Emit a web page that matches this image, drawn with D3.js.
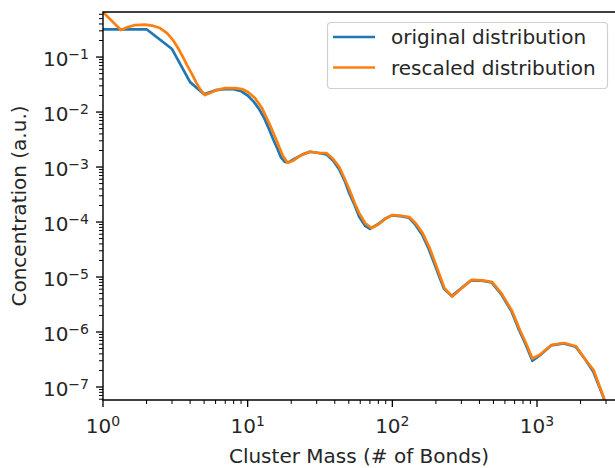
<!DOCTYPE html>
<html><head><meta charset="utf-8">
<script src="https://cdn.jsdelivr.net/npm/d3@7"></script>
<style>body{margin:0;background:#fff}svg{display:block;font-family:"DejaVu Sans",sans-serif}</style>
</head><body>
<svg id="c" width="615" height="468"></svg>
<script>
// Original distribution: [cluster mass, concentration]
const originalX = [1,2,3,4,5,6,7,8,9,10,11,12,13,14,15,16,17,18,19,21,24,27,31,35,39,43,47,50,55,59,65,70,79,89,99,114,130,143,160,178,193,210,227,257,298,350,415,485,565,665,750,825,930,1040,1250,1530,1850,2150,2450,2880,3100];
const originalY = [0.32,0.32,0.14,0.035,0.021,0.025,0.026,0.026,0.024,0.020,0.0155,0.0113,0.0078,0.005,0.0032,0.0022,0.0015,0.00125,0.0012,0.0014,0.0017,0.0019,0.0018,0.0017,0.0013,0.0009,0.00055,0.00035,0.0002,0.000125,8.5e-5,7.5e-5,9e-5,1.15e-4,1.32e-4,1.28e-4,1.2e-4,9.2e-5,6e-5,3.3e-5,1.9e-5,1.05e-5,6.2e-6,4.5e-6,6.2e-6,8.7e-6,8.6e-6,8.0e-6,4.9e-6,2.4e-6,1.1e-6,6.4e-7,3.0e-7,3.7e-7,5.7e-7,6.2e-7,5.4e-7,3.2e-7,1.9e-7,6.5e-8,3e-8];
// Rescaled distribution
const rescaledX = [1,1.331,1.489,1.664,1.951,2.182,2.477,2.77,3.047,3.299,3.573,3.807,4.124,4.394,4.683,5.071,5.49,6.14,6.97,8.17,9.14,10.05,11.23,12.56,14.27,15.8,17.5,18.9,20.5,23,26.8,31,35,39,43,47,50.6,55,59,65,71.6,80,90,100,115,131,145,162,180,195,212,229,260,300,354,420,490,570,673,760,834,930,1050,1260,1540,1860,2170,2470,2900,3100];
const rescaledY = [0.658,0.31,0.351,0.382,0.39,0.374,0.337,0.273,0.204,0.146,0.1,0.0716,0.0491,0.0351,0.0262,0.0204,0.0222,0.0251,0.0273,0.0273,0.0262,0.0231,0.018,0.0118,0.0058,0.0031,0.0016,0.0012,0.0013,0.0016,0.0019,0.0018,0.0018,0.0014,0.001,0.0006,0.00038,0.00022,0.000145,9.5e-5,7.8e-5,9.0e-5,1.15e-4,1.34e-4,1.3e-4,1.23e-4,9.5e-5,6.3e-5,3.5e-5,2.0e-5,1.1e-5,6.3e-6,4.4e-6,6.2e-6,8.9e-6,8.7e-6,8.1e-6,5e-6,2.4e-6,1.1e-6,6.5e-7,3.3e-7,3.9e-7,5.8e-7,6.3e-7,5.5e-7,3.1e-7,2.0e-7,6.3e-8,3e-8];
const seriesNames = ["original distribution","rescaled distribution"];
const seriesColors = ["#1f77b4","#ff7f0e"];
const xTickExps = [0,1,2,3];
const yTickExps = [-1,-2,-3,-4,-5,-6,-7];

const L=103, T=12, R=615, B=400;
const FS=20, SFS=14;
const svg=d3.select("#c");
const x=d3.scaleLog().domain([1,3460]).range([L,R]);
const y=d3.scaleLog().domain([5.8e-8,0.66]).range([B,T]);

svg.append("clipPath").attr("id","clip").append("rect").attr("x",L).attr("y",T).attr("width",R-L).attr("height",B-T);

const line=d3.line().x(d=>x(d[0])).y(d=>y(d[1]));
const series=[d3.zip(originalX,originalY), d3.zip(rescaledX,rescaledY)];
series.forEach((s,i)=>{
  svg.append("path").datum(s).attr("d",line).attr("fill","none")
    .attr("stroke",seriesColors[i]).attr("stroke-width",2.7)
    .attr("stroke-linejoin","round").attr("stroke-linecap","square")
    .attr("clip-path","url(#clip)");
});

// minor ticks
const xMinor=[], yMinor=[];
for(let e=0;e<4;e++) for(let m=2;m<=9;m++){const v=m*Math.pow(10,e); if(v<=3460) xMinor.push(v);}
for(let e=-8;e<0;e++) for(let m=2;m<=9;m++){const v=m*Math.pow(10,e); if(v>=5.8e-8&&v<=0.66) yMinor.push(v);}

const g=svg.append("g").attr("stroke","#000").attr("stroke-width",1.3);
xMinor.forEach(v=>g.append("line").attr("x1",x(v)).attr("x2",x(v)).attr("y1",B).attr("y2",B+4).attr("stroke-width",1));
xTickExps.forEach(e=>{const v=Math.pow(10,e);g.append("line").attr("x1",x(v)).attr("x2",x(v)).attr("y1",B).attr("y2",B+7);});
yMinor.forEach(v=>g.append("line").attr("y1",y(v)).attr("y2",y(v)).attr("x1",L).attr("x2",L-4).attr("stroke-width",1));
yTickExps.forEach(e=>{const v=Math.pow(10,e);g.append("line").attr("y1",y(v)).attr("y2",y(v)).attr("x1",L).attr("x2",L-7);});

// spines
svg.append("path").attr("d",`M${L},${B}V${T}H${R+5}M${L},${B}H${R+5}`).attr("fill","none").attr("stroke","#000").attr("stroke-width",1.4).attr("stroke-linecap","square");

function sup(t,e){
  t.append("tspan").text("10");
  t.append("tspan").attr("dy",-7).attr("font-size",SFS).text(e<0?"\u2212"+(-e):String(e));
}
xTickExps.forEach(e=>{
  const t=svg.append("text").attr("x",x(Math.pow(10,e))).attr("y",433).attr("text-anchor","middle").attr("font-size",FS).attr("fill","#262626");
  sup(t,e);
});
yTickExps.forEach(e=>{
  const t=svg.append("text").attr("x",89).attr("y",y(Math.pow(10,e))+9).attr("text-anchor","end").attr("font-size",FS).attr("fill","#262626");
  sup(t,e);
});

svg.append("text").attr("x",359).attr("y",463).attr("text-anchor","middle").attr("font-size",FS).attr("fill","#262626").text("Cluster Mass (# of Bonds)");
svg.append("text").attr("transform","translate(26,206) rotate(-90)").attr("text-anchor","middle").attr("font-size",FS).attr("fill","#262626").text("Concentration (a.u.)");

// legend
svg.append("rect").attr("x",327.5).attr("y",22.5).attr("width",280).attr("height",66).attr("rx",3.5)
  .attr("fill","#fff").attr("fill-opacity",0.8).attr("stroke","#d0d0d0").attr("stroke-width",1.2);
seriesNames.forEach((n,i)=>{
  const cy=37+i*30.5;
  svg.append("line").attr("x1",333).attr("x2",375).attr("y1",cy).attr("y2",cy).attr("stroke",seriesColors[i]).attr("stroke-width",2.7);
  svg.append("text").attr("x",391).attr("y",cy+7).attr("font-size",FS).attr("fill","#262626").text(n);
});
</script>
</body></html>
